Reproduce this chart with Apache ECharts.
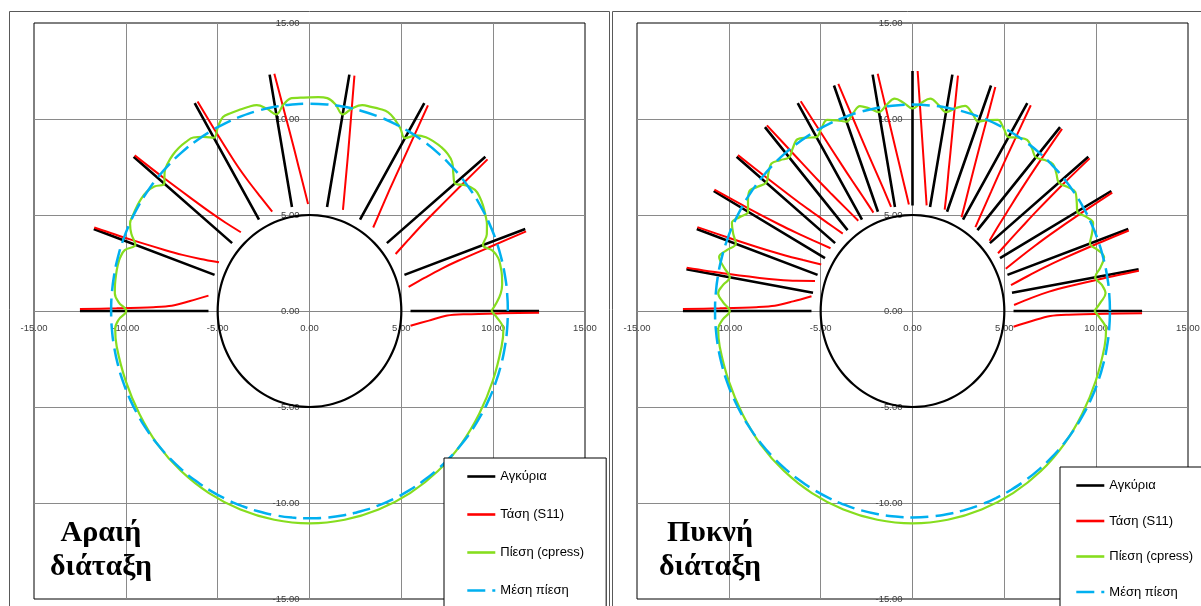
<!DOCTYPE html>
<html>
<head>
<meta charset="utf-8">
<script src="https://cdn.jsdelivr.net/npm/echarts@6/dist/echarts.min.js"></script>
<style>
html,body{margin:0;padding:0;background:#fff;}
#chart{width:1201px;height:606px;}
</style>
</head>
<body>
<div id="chart"></div>
<script>
// ---- axis range (both panels) ----
const axisMin = -15;
const axisMax = 15;
const axisStep = 5;

// ---- geometry: tunnel and anchors ----
const tunnelRadius = 5;
const anchorStart = 5.5;
const anchorEnd = 12.5;
const anchorAnglesSparse = [0, 20, 40, 60, 80, 100, 120, 140, 160, 180];
const anchorAnglesDense = [0, 10, 20, 30, 40, 50, 60, 70, 80, 90, 100, 110, 120, 130, 140, 150, 160, 170, 180];

// ---- axial stress S11, drawn as an offset normal to each anchor ----
const stressStations = [5.5, 6.5, 7.5, 8.5, 10.5, 12.5];
const stressSparse = [
  [0.77, 0.50, 0.24, 0.17, 0.12, 0.09],
  [0.67, 0.52, 0.39, 0.31, 0.22, 0.14],
  [0.74, 0.62, 0.51, 0.43, 0.30, 0.18],
  [0.83, 0.73, 0.63, 0.55, 0.39, 0.23],
  [0.88, 0.80, 0.72, 0.64, 0.46, 0.28],
  [0.89, 0.81, 0.72, 0.64, 0.45, 0.26],
  [0.83, 0.66, 0.50, 0.38, 0.26, 0.18],
  [0.74, 0.58, 0.46, 0.37, 0.21, 0.09],
  [0.70, 0.52, 0.38, 0.29, 0.16, 0.08],
  [0.80, 0.52, 0.27, 0.20, 0.14, 0.10]
];
const stressDense = [
  [0.82, 0.52, 0.26, 0.19, 0.14, 0.12],
  [0.65, 0.45, 0.30, 0.22, 0.13, 0.08],
  [0.57, 0.44, 0.33, 0.25, 0.15, 0.09],
  [0.63, 0.50, 0.39, 0.30, 0.18, 0.10],
  [0.69, 0.57, 0.46, 0.36, 0.21, 0.11],
  [0.86, 0.72, 0.60, 0.48, 0.29, 0.14],
  [0.78, 0.69, 0.60, 0.51, 0.36, 0.22],
  [0.84, 0.75, 0.66, 0.57, 0.41, 0.25],
  [0.81, 0.75, 0.67, 0.60, 0.45, 0.31],
  [0.77, 0.70, 0.63, 0.56, 0.42, 0.28],
  [0.77, 0.70, 0.63, 0.56, 0.42, 0.28],
  [0.76, 0.69, 0.61, 0.53, 0.39, 0.25],
  [0.72, 0.64, 0.55, 0.47, 0.33, 0.19],
  [0.76, 0.65, 0.54, 0.44, 0.29, 0.14],
  [0.65, 0.54, 0.44, 0.35, 0.22, 0.11],
  [0.60, 0.48, 0.37, 0.28, 0.16, 0.08],
  [0.58, 0.46, 0.35, 0.27, 0.17, 0.10],
  [0.62, 0.45, 0.33, 0.25, 0.14, 0.08],
  [0.77, 0.50, 0.27, 0.20, 0.14, 0.10]
];

// ---- contact pressure (cpress), radius of the curve at each angle ----
const cpressAnglesUpper = [
  0, 2.5, 5, 7.5, 10, 12.5, 15, 17.5, 20, 22.5, 25, 27.5, 30, 32.5, 35, 37.5,
  40, 42.5, 45, 47.5, 50, 52.5, 55, 57.5, 60, 62.5, 65, 67.5, 70, 72.5, 75, 77.5,
  80, 82.5, 85, 87.5, 90, 92.5, 95, 97.5, 100, 102.5, 105, 107.5, 110, 112.5, 115, 117.5,
  120, 122.5, 125, 127.5, 130, 132.5, 135, 137.5, 140, 142.5, 145, 147.5, 150, 152.5, 155, 157.5,
  160, 162.5, 165, 167.5, 170, 172.5, 175, 177.5, 180
];
const cpressSparseUpper = [
  9.90, 10.20, 10.45, 10.58, 10.64, 10.66, 10.64, 10.45, 10.05, 10.45, 10.66, 10.80, 10.92, 11.00, 11.00, 10.75,
  10.34, 10.62, 10.98, 11.12, 11.15, 11.12, 11.05, 10.85, 10.40, 10.72, 11.00, 11.20, 11.20, 11.15, 11.10, 10.82,
  10.40, 10.85, 11.13, 11.15, 11.13, 11.12, 11.13, 10.85, 10.40, 10.80, 11.10, 11.14, 11.15, 11.16, 11.15, 10.80,
  10.42, 10.75, 11.03, 11.08, 11.08, 11.02, 10.90, 10.70, 10.32, 10.65, 10.82, 10.87, 10.86, 10.83, 10.78, 10.50,
  10.09, 10.55, 10.68, 10.71, 10.70, 10.68, 10.64, 10.40, 9.98
];
const cpressDenseUpper = [
  9.90, 10.25, 10.55, 10.40, 10.10, 10.48, 10.80, 10.58, 10.28, 10.58, 10.85, 10.64, 10.36, 10.60, 10.82, 10.62,
  10.40, 10.62, 10.82, 10.66, 10.45, 10.68, 10.88, 10.70, 10.46, 10.74, 10.98, 10.76, 10.50, 10.80, 11.06, 10.82,
  10.52, 10.83, 11.10, 10.85, 10.55, 10.85, 11.10, 10.83, 10.52, 10.80, 11.05, 10.79, 10.50, 10.75, 10.98, 10.74,
  10.46, 10.70, 10.92, 10.70, 10.45, 10.66, 10.86, 10.64, 10.40, 10.63, 10.85, 10.62, 10.34, 10.60, 10.85, 10.57,
  10.24, 10.58, 10.90, 10.52, 10.10, 10.40, 10.62, 10.32, 9.95
];
const cpressAnglesLower = [182.5, 185, 190, 200, 210, 220, 230, 240, 250, 260, 270, 280, 290, 300, 310, 320, 330, 340, 350, 355, 357.5];
const cpressSparseLower = [10.40, 10.62, 10.66, 10.65, 10.70, 10.80, 10.88, 10.95, 11.00, 11.04, 11.06, 11.04, 11.00, 10.95, 10.88, 10.78, 10.68, 10.62, 10.62, 10.60, 10.30];
const cpressDenseLower = [10.35, 10.62, 10.66, 10.65, 10.70, 10.80, 10.88, 10.95, 11.00, 11.04, 11.06, 11.04, 11.00, 10.95, 10.88, 10.78, 10.68, 10.62, 10.62, 10.58, 10.28];

// ---- mean pressure radius ----
const meanPressureSparse = 10.8;
const meanPressureDense = 10.75;

// ---- legend entries ----
const legendNames = ['Αγκύρια', 'Τάση (S11)', 'Πίεση (cpress)', 'Μέση πίεση'];

// ---------------------------------------------------------------
const COL_ANCHOR = '#000000';
const COL_STRESS = '#ff0000';
const COL_CPRESS = '#86dd1e';
const COL_MEAN = '#00b0f0';
const SANS = '"Liberation Sans", Arial, sans-serif';
const SERIF = '"Liberation Serif", "Times New Roman", serif';

// plot boxes of the two panels (pixels)
const PANELS = [
  { left: 34, top: 23, width: 551, height: 576 },
  { left: 637, top: 23, width: 551, height: 576 }
];

function toXY(r, deg) {
  const a = deg * Math.PI / 180;
  return [r * Math.cos(a), r * Math.sin(a)];
}

function anchorData(angles) {
  const d = [];
  angles.forEach(a => { d.push(toXY(anchorStart, a), toXY(anchorEnd, a), null); });
  return d;
}

// points along each anchor, pushed sideways (clockwise normal) by the stress offset
function stressData(angles, offsets) {
  const d = [];
  angles.forEach((a, i) => {
    const rad = a * Math.PI / 180, c = Math.cos(rad), s = Math.sin(rad);
    stressStations.forEach((r, j) => {
      const o = offsets[i][j];
      d.push([r * c + o * s, r * s - o * c]);
    });
    d.push(null);
  });
  return d;
}

function loopData(angles, radii) {
  const d = angles.map((a, i) => toXY(radii[i], a));
  d.push(d[0]);
  return d;
}

function circleData(r) {
  const d = [];
  for (let a = 0; a <= 360; a += 5) d.push(toXY(r, a));
  return d;
}

// axes cross in the middle of each panel (value 0 sits at the centre of the symmetric range)
function makeAxis(gridIndex, isX) {
  const p = PANELS[gridIndex];
  return {
    type: 'value', gridIndex: gridIndex,
    position: isX ? 'bottom' : 'left',
    offset: isX ? -p.height / 2 : -p.width / 2,
    min: axisMin, max: axisMax, interval: axisStep,
    axisLine: { show: true, onZero: false, lineStyle: { color: '#868686', width: 1 } },
    axisTick: { show: false },
    splitLine: { show: true, showMinLine: false, showMaxLine: false, lineStyle: { color: '#8a8a8a', width: 1 } },
    axisLabel: {
      show: true, formatter: v => v.toFixed(2), fontFamily: SANS, fontSize: 9.5, color: '#404040',
      margin: isX ? 12 : 10, showMinLabel: true, showMaxLabel: true, hideOverlap: false
    }
  };
}

function lineSeries(name, gi, data, color, width, extra) {
  return Object.assign({
    type: 'line', name: name, xAxisIndex: gi, yAxisIndex: gi, data: data,
    symbol: 'none', showSymbol: false, silent: true, animation: false,
    connectNulls: false,
    lineStyle: { color: color, width: width, type: 'solid' },
    itemStyle: { color: color }
  }, extra || {});
}

function panelSeries(gi, anchorAngles, stress, cpressUpper, cpressLower, meanR) {
  return [
    lineSeries('Σήραγγα', gi, circleData(tunnelRadius), COL_ANCHOR, 2.2, { smooth: true }),
    lineSeries('Αγκύρια', gi, anchorData(anchorAngles), COL_ANCHOR, 2.6),
    lineSeries('Τάση (S11)', gi, stressData(anchorAngles, stress), COL_STRESS, 2, { smooth: 0.3 }),
    lineSeries('Πίεση (cpress)', gi,
      loopData(cpressAnglesUpper.concat(cpressAnglesLower), cpressUpper.concat(cpressLower)),
      COL_CPRESS, 2.2, { smooth: 0.4 }),
    lineSeries('Μέση πίεση', gi, circleData(meanR), COL_MEAN, 2.5,
      { smooth: true, lineStyle: { color: COL_MEAN, width: 2.5, type: [18, 7] } })
  ];
}

function legendBox(left, top, padLeft, gap) {
  return {
    show: true, type: 'plain', orient: 'vertical', left: left, top: top, height: 220,
    padding: [12, 22, 30, padLeft],
    itemWidth: 28, itemHeight: 14, itemGap: gap,
    backgroundColor: '#ffffff', borderColor: '#000000', borderWidth: 1, borderRadius: 0,
    selectedMode: false,
    itemStyle: { opacity: 0 },
    lineStyle: { opacity: 1, width: 2.6 },
    textStyle: { fontFamily: SANS, fontSize: 13, color: '#000000' },
    data: legendNames
  };
}

function titleText(cx, lines) {
  return [
    { type: 'text', z: 100, style: { text: lines[0], x: cx, y: 533, font: 'bold 30px ' + SERIF, fill: '#000',
      textAlign: 'center', align: 'center', textVerticalAlign: 'middle', verticalAlign: 'middle' } },
    { type: 'text', z: 100, style: { text: lines[1], x: cx, y: 567, font: 'bold 30px ' + SERIF, fill: '#000',
      textAlign: 'center', align: 'center', textVerticalAlign: 'middle', verticalAlign: 'middle' } }
  ];
}

const chart = echarts.init(document.getElementById('chart'), null, { renderer: 'canvas' });

chart.setOption({
  backgroundColor: '#ffffff',
  animation: false,
  grid: PANELS.map(p => ({
    left: p.left, top: p.top, width: p.width, height: p.height,
    show: true, borderColor: '#000', borderWidth: 1, backgroundColor: 'transparent',
    containLabel: false, outerBoundsMode: 'none'
  })),
  xAxis: [makeAxis(0, true), makeAxis(1, true)],
  yAxis: [makeAxis(0, false), makeAxis(1, false)],
  legend: [legendBox(444, 458, 22, 25), legendBox(1060, 467, 15, 22.5)],
  series: [].concat(
    panelSeries(0, anchorAnglesSparse, stressSparse, cpressSparseUpper, cpressSparseLower, meanPressureSparse),
    panelSeries(1, anchorAnglesDense, stressDense, cpressDenseUpper, cpressDenseLower, meanPressureDense)
  ),
  graphic: [
    { type: 'rect', z: -10, shape: { x: 9.5, y: 11.5, width: 600, height: 700 },
      style: { fill: 'none', stroke: '#595959', lineWidth: 1 } },
    { type: 'rect', z: -10, shape: { x: 612.5, y: 11.5, width: 700, height: 700 },
      style: { fill: 'none', stroke: '#595959', lineWidth: 1 } }
  ].concat(titleText(101, ['Αραιή', 'διάταξη']), titleText(710, ['Πυκνή', 'διάταξη']))
});
</script>
</body>
</html>
